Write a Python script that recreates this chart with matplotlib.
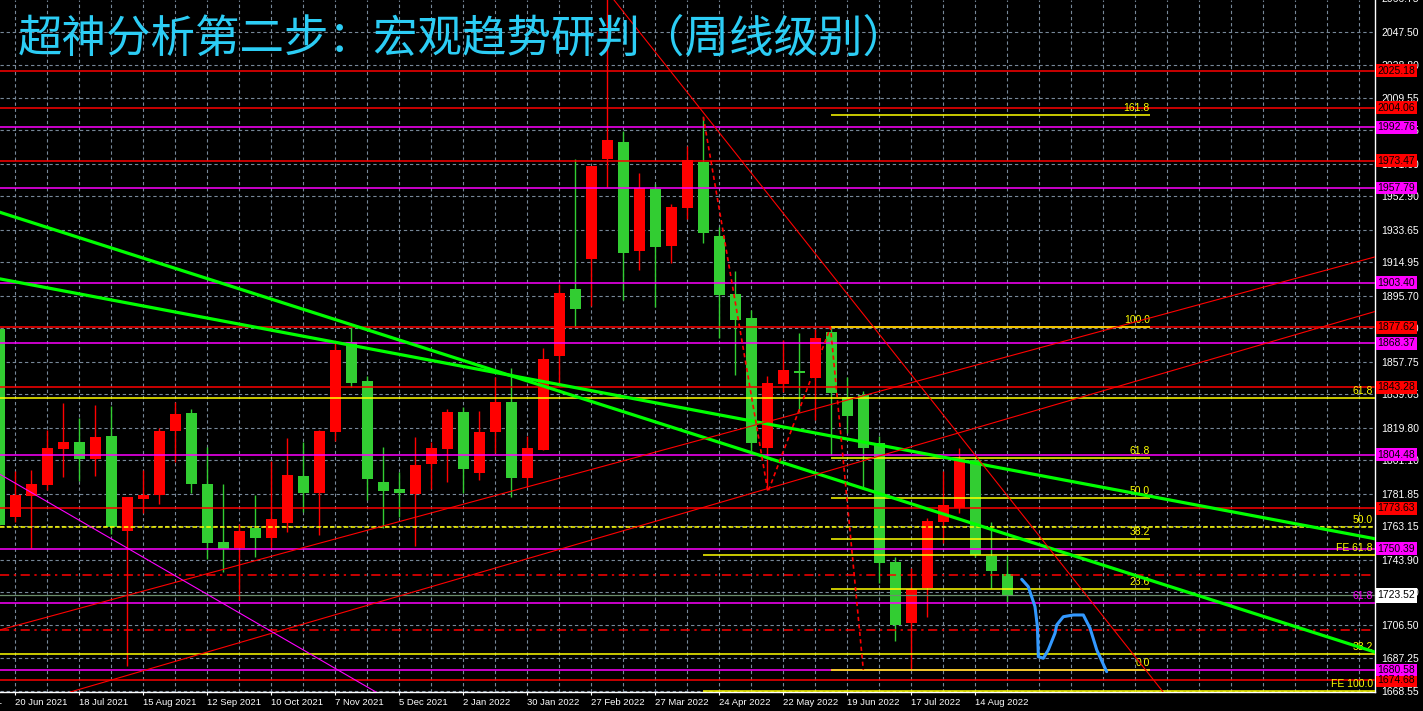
import numpy as np
import matplotlib
matplotlib.use("Agg")
import matplotlib.pyplot as plt
from matplotlib.patches import Rectangle

# weekly candles, bar 0 = week of 20 Jun 2021 (bar -1 is cut by the left edge)
bar_idx = list(range(-1, 63))
opens = [1876.5, 1768.8, 1780.8, 1787.0, 1807.7, 1811.7, 1802.1, 1815.2, 1760.7, 1778.9,
         1781.2, 1818.0, 1828.4, 1787.6, 1754.2, 1750.9, 1762.3, 1756.5, 1765.1, 1792.2,
         1782.4, 1817.6, 1869.0, 1846.8, 1788.7, 1784.7, 1782.0, 1799.2, 1807.9, 1829.0,
         1793.9, 1817.6, 1834.7, 1791.2, 1807.3, 1861.3, 1899.7, 1916.8, 1974.6, 1984.4,
         1921.6, 1957.2, 1924.6, 1946.5, 1972.7, 1930.2, 1896.8, 1883.0, 1808.4, 1845.2,
         1852.7, 1848.7, 1875.0, 1837.4, 1838.7, 1811.0, 1742.7, 1707.4, 1727.7, 1765.9,
         1773.6, 1801.4, 1746.1, 1735.8]
highs = [1877.3, 1795.2, 1795.6, 1818.6, 1834.3, 1825.7, 1833.0, 1832.4, 1780.3, 1795.6,
         1819.6, 1834.9, 1830.7, 1808.7, 1787.6, 1764.6, 1781.2, 1800.8, 1814.0, 1811.7,
         1818.6, 1868.5, 1877.7, 1849.7, 1809.0, 1794.3, 1814.8, 1811.5, 1830.7, 1832.0,
         1829.5, 1849.3, 1854.3, 1815.2, 1865.9, 1902.6, 1974.3, 1970.4, 2068.0, 1990.6,
         1966.4, 1960.1, 1948.8, 1982.1, 1998.8, 1935.5, 1910.1, 1887.6, 1849.7, 1870.4,
         1874.6, 1876.7, 1878.0, 1849.3, 1841.2, 1815.2, 1745.7, 1739.1, 1767.8, 1795.0,
         1808.3, 1803.3, 1765.9, 1746.1]
lows = [1762.8, 1765.9, 1750.6, 1784.1, 1791.8, 1789.5, 1792.3, 1758.6, 1683.1, 1770.7,
        1776.1, 1800.4, 1782.2, 1744.4, 1737.1, 1720.8, 1745.7, 1750.6, 1760.0, 1771.6,
        1758.2, 1812.3, 1843.5, 1778.4, 1762.1, 1768.8, 1751.9, 1784.7, 1788.9, 1782.6,
        1790.0, 1805.6, 1780.3, 1786.0, 1807.1, 1845.6, 1878.0, 1890.1, 1958.5, 1893.4,
        1910.6, 1889.5, 1914.7, 1940.1, 1926.3, 1871.7, 1850.2, 1804.2, 1784.1, 1840.6,
        1829.0, 1824.4, 1804.2, 1816.7, 1785.1, 1730.8, 1697.4, 1680.6, 1711.2, 1753.5,
        1770.7, 1745.7, 1727.6, 1719.9]
closes = [1764.0, 1781.2, 1787.6, 1808.3, 1811.7, 1802.1, 1814.6, 1763.0, 1780.1, 1781.2,
          1818.0, 1827.8, 1787.6, 1753.6, 1750.0, 1760.5, 1756.5, 1767.4, 1792.7, 1782.4,
          1818.0, 1864.6, 1845.8, 1790.6, 1783.7, 1782.4, 1798.5, 1808.3, 1829.0, 1796.4,
          1817.5, 1834.7, 1791.2, 1808.3, 1859.4, 1897.2, 1888.2, 1970.4, 1985.4, 1920.6,
          1958.0, 1924.0, 1946.9, 1973.9, 1932.1, 1896.3, 1882.0, 1811.3, 1845.6, 1853.1,
          1851.2, 1871.7, 1840.1, 1826.8, 1808.4, 1742.3, 1706.5, 1727.3, 1766.3, 1775.3,
          1801.8, 1746.7, 1737.7, 1723.5]

date_ticks = list(range(0, 61, 4))
date_labels = ["20 Jun 2021", "18 Jul 2021", "15 Aug 2021", "12 Sep 2021", "10 Oct 2021",
               "7 Nov 2021", "5 Dec 2021", "2 Jan 2022", "30 Jan 2022", "27 Feb 2022",
               "27 Mar 2022", "24 Apr 2022", "22 May 2022", "19 Jun 2022", "17 Jul 2022",
               "14 Aug 2022"]
price_ticks = [2047.50, 2028.80, 2009.55, 1990.85, 1971.60, 1952.90, 1933.65, 1914.95,
               1895.70, 1877.00, 1857.75, 1839.05, 1819.80, 1801.10, 1781.85, 1763.15,
               1743.90, 1725.20, 1706.50, 1687.25, 1668.55]

red_levels = [2025.18, 2004.06, 1973.47, 1877.62, 1843.28, 1773.63, 1674.68]
magenta_levels = [1992.76, 1957.79, 1903.40, 1868.37, 1804.48, 1750.39, 1680.58]
red_dash_levels = [1735.0, 1703.6]
last_price = 1723.52

# big fib on the left side (only labels at right edge)
big_fib_prices = [1837.0, 1763.0, 1689.6]
big_fib_names = ["61.8", "50.0", "38.2"]
fe_prices = [1746.5, 1668.6]
fe_names = ["FE 61.8", "FE 100.0"]
fe_start = 43
mag_fib_price = 1718.9

# fib retracement from the May high to the July low
fib_lo, fib_hi = 1680.6, 1878.0
fib_levels = [0.0, 23.6, 38.2, 50.0, 61.8, 100.0, 161.8]
fib_x = [51, 70.9]

# trendlines (two anchor points each: bar, price)
green_lines = [[(-0.96, 1905.5), (85.0, 1756.0)],
               [(-0.96, 1943.8), (85.0, 1690.8)]]
red_lines = [[(-0.96, 1703.6), (85.0, 1918.2)],
             [(-0.96, 1656.1), (85.0, 1886.8)],
             [(37.42, 2065.9), (71.54, 1670.2)]]
magenta_line = [(-0.96, 1793.1), (22.54, 1667.9)]
zigzag_x = [43.0, 47.04, 50.95, 53.0]
zigzag_y = [1998.8, 1783.0, 1877.6, 1680.6]

# hand drawn forecast path
path_x = [62.9, 63.31, 63.73, 63.88, 63.94, 64.25, 64.56, 64.98, 65.09, 65.5, 66.13, 66.75,
          67.17, 67.59, 68.21]
path_y = [1732.7, 1728.5, 1717.0, 1705.5, 1688.2, 1687.3, 1692.1, 1701.7, 1706.5, 1711.2,
          1712.2, 1712.2, 1704.6, 1692.1, 1679.6]

title = "超神分析第二步：宏观趋势研判（周线级别）"

RED = "#ff0000"
GREEN = "#32cd32"
MAG = "#ff00ff"
YEL = "#ffff00"
AXFONT = ["Liberation Sans", "DejaVu Sans"]

fig = plt.figure(figsize=(14.23, 7.11), dpi=100, facecolor="black")
ax = fig.add_axes([0, 19 / 711, 1375 / 1423, 692 / 711], facecolor="black")

# grid / ticks
ax.set_yticks(price_ticks)
ax.set_yticklabels([f"{v:.2f}" for v in price_ticks], family=AXFONT)
ax.set_xticks(date_ticks)
ax.set_xticklabels(date_labels, ha="left", family=AXFONT)
ax.set_xticks(np.arange(0, 86, 2), minor=True)
ax.set_xlim(-0.956, 84.98)
ax.set_ylim(1667.9, 2065.9)
ax.grid(True, axis="x", which="both", color="#778899", ls=(0, (3, 2.5)), lw=0.8, zorder=0)
ax.grid(True, axis="y", which="major", color="#778899", ls=(0, (3, 2.5)), lw=0.8, zorder=0)
ax.set_axisbelow(True)

ax.yaxis.tick_right()
ax.tick_params(axis="y", length=0, pad=4.5, labelsize=7.5, labelcolor="white")
ax.tick_params(axis="x", which="major", length=2.5, width=0.8, color="white", pad=1.5,
               labelsize=6.8, labelcolor="white")
ax.tick_params(axis="x", which="minor", length=0)
ax.text(-4.25, -0.0075, "23 May 2021", transform=ax.get_xaxis_transform(), ha="left",
        va="top", fontsize=6.8, color="white", clip_on=False, family=AXFONT)
ax.text(1.0045, 2066.75, "2066.75", transform=ax.get_yaxis_transform(), ha="left",
        va="center", fontsize=7.5, color="white", clip_on=False, family=AXFONT)

for s in ["left", "top"]:
    ax.spines[s].set_visible(False)
for s in ["right", "bottom"]:
    ax.spines[s].set_color("white")
    ax.spines[s].set_linewidth(1)

# candles
o = np.array(opens)
c = np.array(closes)
cols = np.where(c >= o, RED, GREEN)
ax.vlines(bar_idx, lows, highs, colors=cols, lw=1, zorder=2)
ax.bar(bar_idx, np.abs(c - o), bottom=np.minimum(o, c), width=0.69, color=cols, lw=0, zorder=3)

# horizontal levels
for p in red_levels:
    ax.axhline(p, color=RED, lw=1.1, zorder=4)
for p in magenta_levels:
    ax.axhline(p, color=MAG, lw=1.1, zorder=4)
ax.axhline(mag_fib_price, color=MAG, lw=1.1, zorder=4)
for p in red_dash_levels:
    ax.axhline(p, color=RED, lw=1.1, ls=(0, (6, 3, 1.5, 3)), zorder=4)
ax.axhline(last_price, color="#6b8e6b", lw=0.9, zorder=4)
for i, p in enumerate(big_fib_prices):
    ax.axhline(p, color=YEL, lw=1.1, ls="-" if i != 1 else (0, (3, 1.5)), zorder=4)
    ax.text(0.9985, p + 1.2, big_fib_names[i], transform=ax.get_yaxis_transform(),
            ha="right", va="bottom", fontsize=7.5, color=YEL, zorder=6, family=AXFONT)
for p, name in zip(fe_prices, fe_names):
    ax.hlines(p, fe_start, 85, color=YEL, lw=1.1, zorder=4)
    ax.text(0.9985, max(p + 1.2, 1668.2), name, transform=ax.get_yaxis_transform(),
            ha="right", va="bottom", fontsize=7.5, color=YEL, zorder=6, clip_on=False,
            family=AXFONT)
ax.text(0.9985, mag_fib_price + 1.2, "61.8", transform=ax.get_yaxis_transform(),
        ha="right", va="bottom", fontsize=7.5, color=MAG, zorder=6, family=AXFONT)

# fib retracement
for lv in fib_levels:
    p = fib_lo + (fib_hi - fib_lo) * lv / 100
    ax.hlines(p, fib_x[0], fib_x[1], color=YEL, lw=1.1, zorder=5)
    ax.text(fib_x[1], p + 1.2, f"{lv:.1f}", ha="right", va="bottom", fontsize=7.5,
            color=YEL, zorder=6, family=AXFONT)

# trendlines
for a, b in green_lines:
    ax.axline(a, b, color="#00ff00", lw=2.3, zorder=6)
for a, b in red_lines:
    ax.axline(a, b, color=RED, lw=0.8, zorder=6)
ax.axline(magenta_line[0], magenta_line[1], color=MAG, lw=0.8, zorder=6)
ax.plot(zigzag_x, zigzag_y, color=RED, lw=1.2, ls=(0, (2.5, 2)), zorder=6)
ax.plot(path_x, path_y, color="#3399ff", lw=2.2, solid_capstyle="round", zorder=7)

# price tags on the scale
ytr = ax.get_yaxis_transform()


def tag(p, face, h=7.4):
    ax.add_patch(Rectangle((1.0007, p - h / 2), 0.0298, h, transform=ytr,
                           facecolor=face, edgecolor="none", clip_on=False, zorder=9))
    ax.text(1.0156, p, f"{p:.2f}", transform=ytr, ha="center", va="center", fontsize=7.5,
            color="black", clip_on=False, zorder=10, family=AXFONT)


for p in red_levels:
    tag(p, RED)
for p in magenta_levels:
    tag(p, MAG)
tag(last_price, "white", h=8.6)

fig.text(18 / 1423, 1 - 39 / 711, title, color="#2ccdf5", fontsize=32, ha="left",
         va="center", family=["Noto Sans CJK SC", "DejaVu Sans"])

fig.savefig("out.png", dpi=100, facecolor="black")
